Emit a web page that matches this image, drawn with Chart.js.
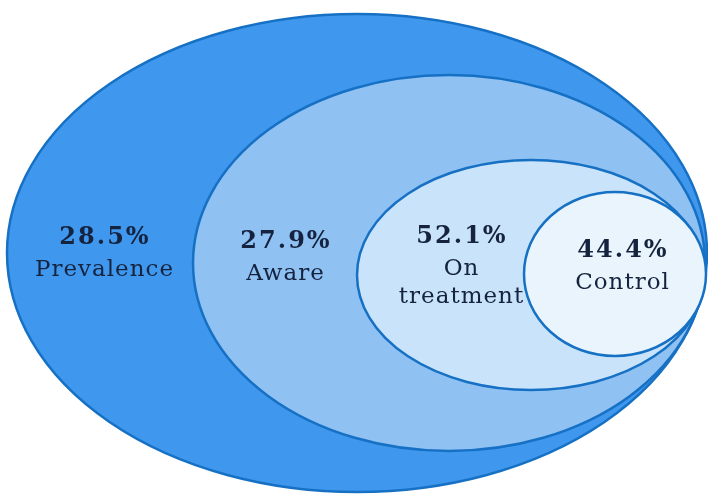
<!DOCTYPE html>
<html>
<head>
<meta charset="utf-8">
<script src="https://cdn.jsdelivr.net/npm/chart.js@4.4.1/dist/chart.umd.min.js"></script>
<style>
    html, body { margin: 0; padding: 0; background: #fff; }
    #wrap { width: 708px; height: 494px; position: relative; }
</style>
</head>
<body>
<div id="wrap"><canvas id="nestChart"></canvas></div>
<script>
// data (outermost to innermost)
var stageNames = [['Prevalence'], ['Aware'], ['On', 'treatment'], ['Control']];
var stageValues = [28.5, 27.9, 52.1, 44.4];

// layout, in the chart's own units (x 0..708, y 0..494 from the top)
var ellipseCx = [357, 449, 531, 615];
var ellipseCy = [253, 263, 275, 274];
var ellipseRx = [350, 256, 174, 91];
var ellipseRy = [239, 188, 115, 82];
var labelX = [104, 285, 461, 622];
var labelY = [244, 248, 243, 257];   // baseline of the percentage
var fills = ['#3f98ee', '#8fc1f3', '#c9e4fa', '#eaf4fd'];
var edge = '#1670c4';

var ellipsePlugin = {
    id: 'nestedEllipses',
    beforeDatasetsDraw: function (chart) {
        var ctx = chart.ctx, xs = chart.scales.x, ys = chart.scales.y;
        for (var i = 0; i < stageValues.length; i++) {
            var cx = xs.getPixelForValue(ellipseCx[i]);
            var cy = ys.getPixelForValue(ellipseCy[i]);
            var rx = Math.abs(xs.getPixelForValue(ellipseCx[i] + ellipseRx[i]) - cx);
            var ry = Math.abs(ys.getPixelForValue(ellipseCy[i] + ellipseRy[i]) - cy);
            ctx.save();
            ctx.beginPath();
            ctx.ellipse(cx, cy, rx, ry, 0, 0, Math.PI * 2);
            ctx.fillStyle = fills[i];
            ctx.fill();
            ctx.lineWidth = 2.5;
            ctx.strokeStyle = edge;
            ctx.stroke();
            ctx.restore();
        }
    },
    afterDatasetsDraw: function (chart) {
        var ctx = chart.ctx;
        var pts = chart.getDatasetMeta(0).data;
        ctx.save();
        ctx.textAlign = 'center';
        ctx.textBaseline = 'alphabetic';
        ctx.fillStyle = '#15233f';
        pts.forEach(function (pt, i) {
            ctx.letterSpacing = '2px';
            ctx.font = 'bold 24px "DejaVu Serif", serif';
            ctx.fillText(stageValues[i].toFixed(1) + '%', pt.x + 1, pt.y);
            ctx.letterSpacing = '1px';
            ctx.font = '23px "DejaVu Serif", serif';
            stageNames[i].forEach(function (line, k) {
                ctx.fillText(line, pt.x + 0.5, pt.y + 32 + 28 * k);
            });
        });
        ctx.restore();
    }
};

new Chart(document.getElementById('nestChart').getContext('2d'), {
    type: 'scatter',
    data: {
        datasets: [{
            data: stageValues.map(function (v, i) { return { x: labelX[i], y: labelY[i] }; }),
            pointRadius: 0,
            pointHoverRadius: 0
        }]
    },
    options: {
        responsive: true,
        maintainAspectRatio: false,
        animation: false,
        layout: { padding: 0 },
        plugins: { legend: { display: false }, tooltip: { enabled: false } },
        scales: {
            x: { type: 'linear', min: 0, max: 708, display: false },
            y: { type: 'linear', min: 0, max: 494, reverse: true, display: false }
        }
    },
    plugins: [ellipsePlugin]
});
</script>
</body>
</html>
